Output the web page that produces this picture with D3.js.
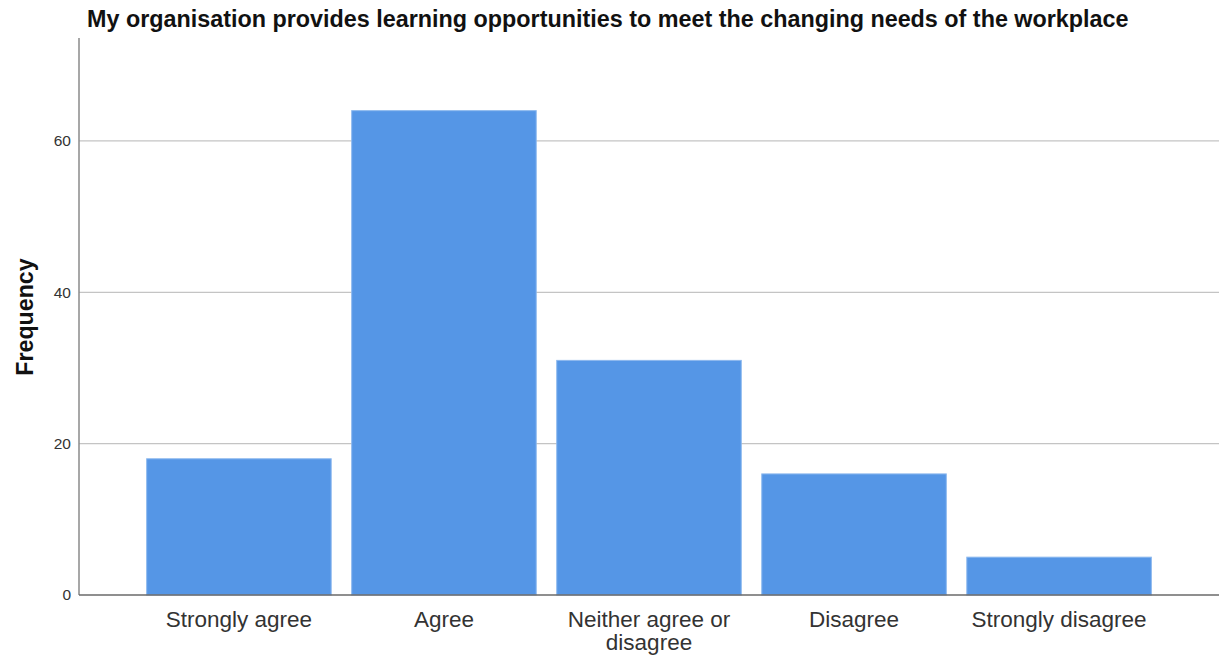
<!DOCTYPE html>
<html>
<head>
<meta charset="utf-8">
<script src="https://cdn.jsdelivr.net/npm/d3@7"></script>
<style>
  body { margin: 0; background: #fff; }
  svg { display: block; font-family: 'Liberation Sans', Arial, sans-serif; }
</style>
</head>
<body>
<svg id="chart" width="1221" height="656"></svg>
<script>
const categories = ['Strongly agree', 'Agree', 'Neither agree or disagree', 'Disagree', 'Strongly disagree'];
const frequencies = [18, 64, 31, 16, 5];
const yTicks = [0, 20, 40, 60];
const yMax = 73.6;

const Plot = { Left: 79, Right: 1219, Top: 38, Bottom: 595 };

const svg = d3.select('#chart');

const x = d3.scaleBand()
    .domain(categories)
    .range([Plot.Left, Plot.Right])
    .paddingInner(0.1)
    .paddingOuter(0.33);

const y = d3.scaleLinear()
    .domain([0, yMax])
    .range([Plot.Bottom, Plot.Top]);

// gridlines
svg.append('g')
    .selectAll('line')
    .data(yTicks.filter(t => t > 0))
    .join('line')
    .attr('x1', Plot.Left)
    .attr('x2', Plot.Right)
    .attr('y1', d => y(d))
    .attr('y2', d => y(d))
    .attr('stroke', '#c4c4c4')
    .attr('stroke-width', 1.2);

// bars
svg.append('g')
    .selectAll('rect')
    .data(categories)
    .join('rect')
    .attr('x', d => x(d))
    .attr('y', (d, i) => y(frequencies[i]))
    .attr('width', x.bandwidth())
    .attr('height', (d, i) => y(0) - y(frequencies[i]))
    .attr('fill', '#5596e6')
    .attr('stroke', '#8cb8ee')
    .attr('stroke-width', 1);

// y axis
const yAxis = svg.append('g')
    .attr('transform', `translate(${Plot.Left},0)`)
    .call(d3.axisLeft(y).tickValues(yTicks).tickSize(0).tickPadding(8));
yAxis.select('.domain').remove();
yAxis.selectAll('text')
    .attr('font-size', 15.5)
    .attr('font-family', "'Liberation Sans', Arial, sans-serif")
    .attr('fill', '#333');

svg.append('line')
    .attr('x1', Plot.Left).attr('x2', Plot.Left)
    .attr('y1', Plot.Top).attr('y2', Plot.Bottom)
    .attr('stroke', '#8a8a8a')
    .attr('stroke-width', 1.5);

// x axis
const xAxis = svg.append('g')
    .attr('transform', `translate(0,${Plot.Bottom})`)
    .call(d3.axisBottom(x).tickSize(0).tickPadding(16));
xAxis.select('.domain').remove();
xAxis.selectAll('text')
    .attr('font-size', 22.5)
    .attr('font-family', "'Liberation Sans', Arial, sans-serif")
    .attr('fill', '#333')
    .each(function (d) {
        if (d === 'Neither agree or disagree') {
            const t = d3.select(this);
            t.text(null);
            t.append('tspan').attr('x', 0).attr('dy', '0.71em').text('Neither agree or');
            t.append('tspan').attr('x', 0).attr('dy', '1.02em').text('disagree');
            t.attr('dy', null);
        }
    });

svg.append('line')
    .attr('x1', Plot.Left).attr('x2', Plot.Right)
    .attr('y1', Plot.Bottom).attr('y2', Plot.Bottom)
    .attr('stroke', '#6a6a6a')
    .attr('stroke-width', 1.5);

// title
svg.append('text')
    .attr('x', 87)
    .attr('y', 27)
    .attr('font-size', 23.35)
    .attr('font-weight', 'bold')
    .attr('fill', '#111')
    .text('My organisation provides learning opportunities to meet the changing needs of the workplace');

// y label
svg.append('text')
    .attr('transform', 'translate(33,317) rotate(-90)')
    .attr('text-anchor', 'middle')
    .attr('font-size', 23.2)
    .attr('font-weight', 'bold')
    .attr('fill', '#111')
    .text('Frequency');
</script>
</body>
</html>
